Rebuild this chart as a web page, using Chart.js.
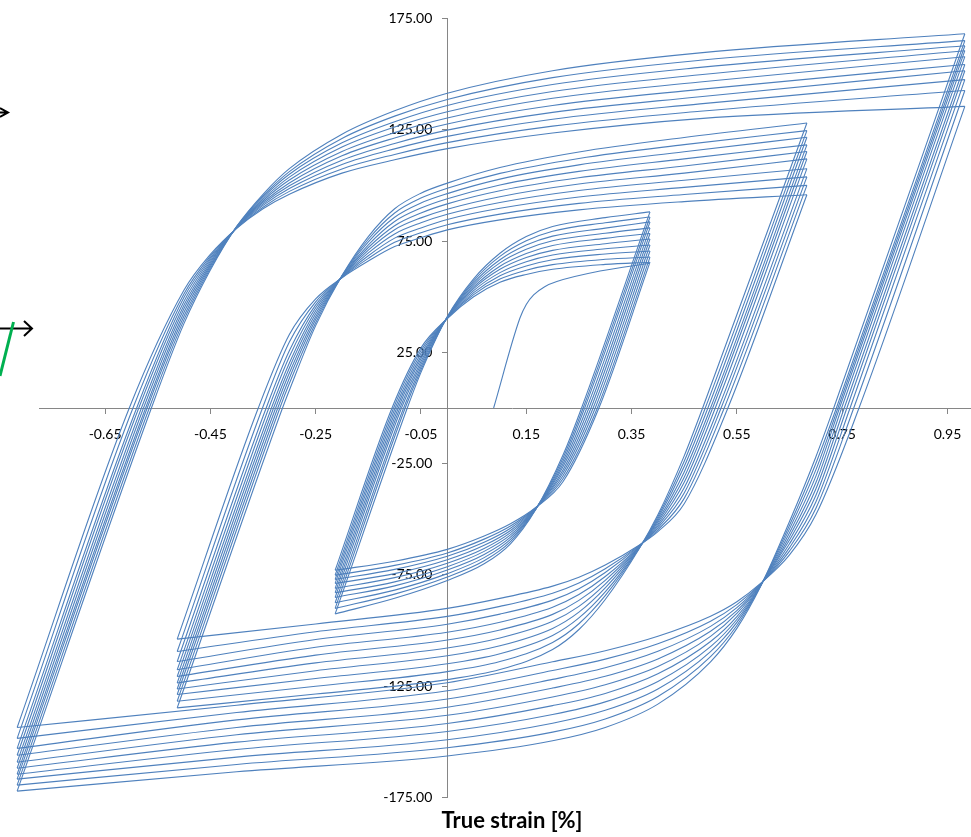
<!DOCTYPE html>
<html>
<head>
<meta charset="utf-8">
<script src="https://cdn.jsdelivr.net/npm/chart.js@4.4.1/dist/chart.umd.min.js"></script>
<style>
  html, body { margin: 0; padding: 0; background: #fff; overflow: hidden; }
  canvas { display: block; }
</style>
</head>
<body>
<canvas id="boucles" width="985" height="837"></canvas>
<script>
// cycles d'hystérésis : [déformation vraie %, contrainte], du plus grand cycle au plus petit
const grandeMontee = [
  [[-0.817,-172.1],[-0.562,0],[-0.50,38.0],[-0.45,62.0],[-0.40,81.6],[-0.35,96.0],[-0.30,107.5],[-0.20,123.0],[-0.10,133.5],[0,141.4],[0.20,151.5],[0.48,159.5],[0.983,168.1]],
  [[-0.817,-169.4],[-0.566,0],[-0.50,39.7],[-0.45,62.8],[-0.40,81.5],[-0.35,95.3],[-0.30,106.2],[-0.20,121.1],[-0.10,131.1],[0,138.6],[0.20,148.4],[0.48,156.2],[0.983,165.0]],
  [[-0.817,-166.7],[-0.570,0],[-0.50,41.3],[-0.45,63.6],[-0.40,81.4],[-0.35,94.6],[-0.30,105.0],[-0.20,119.1],[-0.10,128.6],[0,135.9],[0.20,145.3],[0.48,153.0],[0.983,162.7]],
  [[-0.817,-164.5],[-0.573,0],[-0.50,43.0],[-0.45,64.3],[-0.40,81.3],[-0.35,93.8],[-0.30,103.7],[-0.20,117.2],[-0.10,126.2],[0,133.1],[0.20,142.2],[0.48,149.7],[0.983,160.5]],
  [[-0.817,-161.8],[-0.577,0],[-0.50,44.7],[-0.45,65.1],[-0.40,81.2],[-0.35,93.1],[-0.30,102.4],[-0.20,115.2],[-0.10,123.7],[0,130.3],[0.20,139.1],[0.48,146.4],[0.983,157.8]],
  [[-0.817,-159.1],[-0.581,0],[-0.50,46.3],[-0.45,65.9],[-0.40,81.1],[-0.35,92.4],[-0.30,101.1],[-0.20,113.3],[-0.10,121.3],[0,127.6],[0.20,135.9],[0.48,143.1],[0.983,154.3]],
  [[-0.817,-156.0],[-0.586,0],[-0.50,48.0],[-0.45,66.7],[-0.40,81.0],[-0.35,91.7],[-0.30,99.8],[-0.20,111.3],[-0.10,118.8],[0,124.8],[0.20,132.8],[0.48,139.8],[0.983,151.5]],
  [[-0.817,-152.9],[-0.590,0],[-0.50,49.7],[-0.45,67.4],[-0.40,80.9],[-0.35,91.0],[-0.30,98.6],[-0.20,109.4],[-0.10,116.4],[0,122.0],[0.20,129.7],[0.48,136.6],[0.983,147.5]],
  [[-0.817,-148.4],[-0.597,0],[-0.50,51.3],[-0.45,68.2],[-0.40,80.8],[-0.35,90.2],[-0.30,97.3],[-0.20,107.4],[-0.10,113.9],[0,119.2],[0.20,126.6],[0.48,133.3],[0.983,142.6]],
  [[-0.817,-143.5],[-0.604,0],[-0.50,53.0],[-0.45,69.0],[-0.40,80.7],[-0.35,89.5],[-0.30,96.0],[-0.20,105.5],[-0.10,111.5],[0,116.5],[0.20,123.5],[0.48,130.0],[0.983,135.5]]
];
const grandeDescente = [
  [[0.983,168.1],[0.734,0],[0.70,-22.0],[0.65,-51.0],[0.595,-80.2],[0.55,-99.0],[0.50,-114.0],[0.40,-133.0],[0.30,-143.5],[0.20,-149.5],[0,-156.3],[-0.40,-163.4],[-0.817,-172.1]],
  [[0.983,165.0],[0.739,0],[0.70,-24.9],[0.65,-52.7],[0.595,-80.0],[0.55,-97.7],[0.50,-111.7],[0.40,-129.6],[0.30,-139.7],[0.20,-145.6],[0,-152.6],[-0.40,-160.1],[-0.817,-169.4]],
  [[0.983,162.7],[0.742,0],[0.70,-27.8],[0.65,-54.3],[0.595,-79.9],[0.55,-96.3],[0.50,-109.4],[0.40,-126.2],[0.30,-135.8],[0.20,-141.6],[0,-149.0],[-0.40,-156.8],[-0.817,-166.7]],
  [[0.983,160.5],[0.745,0],[0.70,-30.7],[0.65,-56.0],[0.595,-79.7],[0.55,-95.0],[0.50,-107.2],[0.40,-122.8],[0.30,-132.0],[0.20,-137.7],[0,-145.3],[-0.40,-153.4],[-0.817,-164.5]],
  [[0.983,157.8],[0.749,0],[0.70,-33.6],[0.65,-57.7],[0.595,-79.6],[0.55,-93.7],[0.50,-104.9],[0.40,-119.4],[0.30,-128.2],[0.20,-133.7],[0,-141.7],[-0.40,-150.1],[-0.817,-161.8]],
  [[0.983,154.3],[0.754,0],[0.70,-36.4],[0.65,-59.3],[0.595,-79.4],[0.55,-92.3],[0.50,-102.6],[0.40,-116.1],[0.30,-124.3],[0.20,-129.8],[0,-138.0],[-0.40,-146.8],[-0.817,-159.1]],
  [[0.983,151.5],[0.759,0],[0.70,-39.3],[0.65,-61.0],[0.595,-79.3],[0.55,-91.0],[0.50,-100.3],[0.40,-112.7],[0.30,-120.5],[0.20,-125.8],[0,-134.4],[-0.40,-143.5],[-0.817,-156.0]],
  [[0.983,147.5],[0.765,0],[0.70,-42.2],[0.65,-62.7],[0.595,-79.1],[0.55,-89.7],[0.50,-98.1],[0.40,-109.3],[0.30,-116.7],[0.20,-121.9],[0,-130.7],[-0.40,-140.1],[-0.817,-152.9]],
  [[0.983,142.6],[0.772,0],[0.70,-45.1],[0.65,-64.3],[0.595,-79.0],[0.55,-88.3],[0.50,-95.8],[0.40,-105.9],[0.30,-112.8],[0.20,-117.9],[0,-127.0],[-0.40,-136.8],[-0.817,-148.4]],
  [[0.983,135.5],[0.782,0],[0.70,-48.0],[0.65,-66.0],[0.595,-78.8],[0.55,-87.0],[0.50,-93.5],[0.40,-102.5],[0.30,-109.0],[0.20,-114.0],[0,-123.4],[-0.40,-133.5],[-0.817,-143.5]]
];
const moyenneMontee = [
  [[-0.513,-134.7],[-0.313,0],[-0.30,8.0],[-0.25,37.0],[-0.20,59.5],[-0.15,77.0],[-0.10,89.5],[-0.05,96.5],[0,101.0],[0.10,108.0],[0.25,115.0],[0.45,121.5],[0.683,128.0]],
  [[-0.513,-131.7],[-0.318,0],[-0.30,11.0],[-0.25,38.3],[-0.20,59.4],[-0.15,75.8],[-0.10,87.6],[-0.05,94.3],[0,98.7],[0.10,105.4],[0.25,112.1],[0.45,118.3],[0.683,124.6]],
  [[-0.513,-128.7],[-0.322,0],[-0.30,13.4],[-0.25,39.7],[-0.20,59.3],[-0.15,74.6],[-0.10,85.7],[-0.05,92.1],[0,96.3],[0.10,102.8],[0.25,109.2],[0.45,115.1],[0.683,121.6]],
  [[-0.513,-126.2],[-0.326,0],[-0.30,15.7],[-0.25,41.0],[-0.20,59.2],[-0.15,73.3],[-0.10,83.8],[-0.05,89.8],[0,94.0],[0.10,100.2],[0.25,106.3],[0.45,111.9],[0.683,118.2]],
  [[-0.513,-123.5],[-0.330,0],[-0.30,18.0],[-0.25,42.3],[-0.20,59.1],[-0.15,72.1],[-0.10,81.9],[-0.05,87.6],[0,91.7],[0.10,97.6],[0.25,103.4],[0.45,108.7],[0.683,115.2]],
  [[-0.513,-120.6],[-0.334,0],[-0.30,20.2],[-0.25,43.7],[-0.20,58.9],[-0.15,70.9],[-0.10,80.1],[-0.05,85.4],[0,89.3],[0.10,94.9],[0.25,100.6],[0.45,105.5],[0.683,111.9]],
  [[-0.513,-117.6],[-0.339,0],[-0.30,23.0],[-0.25,45.0],[-0.20,58.8],[-0.15,69.7],[-0.10,78.2],[-0.05,83.2],[0,87.0],[0.10,92.3],[0.25,97.7],[0.45,102.3],[0.683,107.5]],
  [[-0.513,-113.9],[-0.344,0],[-0.30,25.7],[-0.25,46.3],[-0.20,58.7],[-0.15,68.4],[-0.10,76.3],[-0.05,80.9],[0,84.7],[0.10,89.7],[0.25,94.8],[0.45,99.1],[0.683,103.8]],
  [[-0.513,-109.4],[-0.351,0],[-0.30,29.6],[-0.25,47.7],[-0.20,58.6],[-0.15,67.2],[-0.10,74.4],[-0.05,78.7],[0,82.3],[0.10,87.1],[0.25,91.9],[0.45,95.9],[0.683,100.0]],
  [[-0.513,-103.8],[-0.359,0],[-0.30,33.0],[-0.25,49.0],[-0.20,58.5],[-0.15,66.0],[-0.10,72.5],[-0.05,76.5],[0,80.0],[0.10,84.5],[0.25,89.0],[0.45,92.7],[0.683,95.8]]
];
const moyenneDescente = [
  [[0.683,128.0],[0.485,0],[0.45,-21.5],[0.40,-48.0],[0.365,-63.0],[0.30,-86.0],[0.25,-99.5],[0.20,-108.5],[0.10,-117.5],[0,-122.0],[-0.25,-128.5],[-0.513,-134.7]],
  [[0.683,124.6],[0.490,0],[0.45,-23.9],[0.40,-48.8],[0.365,-62.8],[0.30,-84.3],[0.25,-96.9],[0.20,-105.3],[0.10,-113.9],[0,-118.4],[-0.25,-125.0],[-0.513,-131.7]],
  [[0.683,121.6],[0.495,0],[0.45,-26.3],[0.40,-49.7],[0.365,-62.7],[0.30,-82.6],[0.25,-94.3],[0.20,-102.2],[0.10,-110.4],[0,-114.9],[-0.25,-121.5],[-0.513,-128.7]],
  [[0.683,118.2],[0.500,0],[0.45,-28.7],[0.40,-50.5],[0.365,-62.5],[0.30,-80.8],[0.25,-91.7],[0.20,-99.0],[0.10,-106.8],[0,-111.3],[-0.25,-118.0],[-0.513,-126.2]],
  [[0.683,115.2],[0.504,0],[0.45,-31.1],[0.40,-51.3],[0.365,-62.3],[0.30,-79.1],[0.25,-89.1],[0.20,-95.8],[0.10,-103.3],[0,-107.8],[-0.25,-114.5],[-0.513,-123.5]],
  [[0.683,111.9],[0.509,0],[0.45,-33.4],[0.40,-52.2],[0.365,-62.2],[0.30,-77.4],[0.25,-86.4],[0.20,-92.7],[0.10,-99.7],[0,-104.2],[-0.25,-111.0],[-0.513,-120.6]],
  [[0.683,107.5],[0.515,0],[0.45,-35.8],[0.40,-53.0],[0.365,-62.0],[0.30,-75.7],[0.25,-83.8],[0.20,-89.5],[0.10,-96.2],[0,-100.7],[-0.25,-107.5],[-0.513,-117.6]],
  [[0.683,103.8],[0.520,0],[0.45,-38.2],[0.40,-53.8],[0.365,-61.8],[0.30,-73.9],[0.25,-81.2],[0.20,-86.3],[0.10,-92.6],[0,-97.1],[-0.25,-104.0],[-0.513,-113.9]],
  [[0.683,100.0],[0.526,0],[0.45,-40.6],[0.40,-54.7],[0.365,-61.7],[0.30,-72.2],[0.25,-78.6],[0.20,-83.2],[0.10,-89.1],[0,-93.6],[-0.25,-100.5],[-0.513,-109.4]],
  [[0.683,95.8],[0.533,0],[0.45,-43.0],[0.40,-55.5],[0.365,-61.5],[0.30,-70.5],[0.25,-76.0],[0.20,-80.0],[0.10,-85.5],[0,-90.0],[-0.25,-97.0],[-0.513,-103.8]]
];
const petiteMontee = [
  [[-0.213,-92.5],[-0.076,0],[-0.05,16.0],[0,41.0],[0.05,58.0],[0.10,69.5],[0.15,77.0],[0.20,81.5],[0.30,85.5],[0.385,88.1]],
  [[-0.213,-90.0],[-0.080,0],[-0.05,17.2],[0,40.9],[0.05,57.1],[0.10,68.1],[0.15,75.1],[0.20,79.4],[0.30,83.2],[0.385,85.8]],
  [[-0.213,-87.5],[-0.083,0],[-0.05,18.4],[0,40.8],[0.05,56.2],[0.10,66.6],[0.15,73.2],[0.20,77.2],[0.30,80.8],[0.385,83.6]],
  [[-0.213,-85.1],[-0.087,0],[-0.05,19.7],[0,40.8],[0.05,55.3],[0.10,65.2],[0.15,71.3],[0.20,75.1],[0.30,78.5],[0.385,80.9]],
  [[-0.213,-83.0],[-0.090,0],[-0.05,20.9],[0,40.7],[0.05,54.4],[0.10,63.7],[0.15,69.4],[0.20,73.0],[0.30,76.2],[0.385,78.4]],
  [[-0.213,-81.0],[-0.093,0],[-0.05,22.1],[0,40.6],[0.05,53.6],[0.10,62.3],[0.15,67.6],[0.20,70.8],[0.30,73.8],[0.385,75.9]],
  [[-0.213,-78.8],[-0.096,0],[-0.05,23.3],[0,40.5],[0.05,52.7],[0.10,60.8],[0.15,65.7],[0.20,68.7],[0.30,71.5],[0.385,73.2]],
  [[-0.213,-77.0],[-0.099,0],[-0.05,24.6],[0,40.4],[0.05,51.8],[0.10,59.4],[0.15,63.8],[0.20,66.6],[0.30,69.2],[0.385,70.5]],
  [[-0.213,-75.1],[-0.102,0],[-0.05,25.8],[0,40.3],[0.05,50.9],[0.10,57.9],[0.15,61.9],[0.20,64.4],[0.30,66.8],[0.385,67.8]],
  [[-0.213,-72.9],[-0.105,0],[-0.05,27.0],[0,40.2],[0.05,50.0],[0.10,56.5],[0.15,60.0],[0.20,62.3],[0.30,64.5],[0.385,65.5]]
];
const petiteDescente = [
  [[0.385,88.1],[0.255,0],[0.22,-21.0],[0.168,-45.6],[0.12,-61.0],[0.07,-70.0],[0,-77.5],[-0.10,-85.5],[-0.213,-92.5]],
  [[0.385,85.8],[0.258,0],[0.22,-22.3],[0.168,-45.5],[0.12,-60.0],[0.07,-68.6],[0,-75.9],[-0.10,-83.6],[-0.213,-90.0]],
  [[0.385,83.6],[0.261,0],[0.22,-23.7],[0.168,-45.4],[0.12,-59.0],[0.07,-67.2],[0,-74.4],[-0.10,-81.8],[-0.213,-87.5]],
  [[0.385,80.9],[0.265,0],[0.22,-25.0],[0.168,-45.3],[0.12,-58.0],[0.07,-65.8],[0,-72.8],[-0.10,-79.9],[-0.213,-85.1]],
  [[0.385,78.4],[0.269,0],[0.22,-26.3],[0.168,-45.2],[0.12,-57.0],[0.07,-64.4],[0,-71.3],[-0.10,-78.1],[-0.213,-83.0]],
  [[0.385,75.9],[0.273,0],[0.22,-27.7],[0.168,-45.1],[0.12,-56.0],[0.07,-63.1],[0,-69.7],[-0.10,-76.2],[-0.213,-81.0]],
  [[0.385,73.2],[0.277,0],[0.22,-29.0],[0.168,-45.0],[0.12,-55.0],[0.07,-61.7],[0,-68.2],[-0.10,-74.4],[-0.213,-78.8]],
  [[0.385,70.5],[0.281,0],[0.22,-30.3],[0.168,-44.9],[0.12,-54.0],[0.07,-60.3],[0,-66.6],[-0.10,-72.5],[-0.213,-77.0]],
  [[0.385,67.8],[0.285,0],[0.22,-31.7],[0.168,-44.8],[0.12,-53.0],[0.07,-58.9],[0,-65.1],[-0.10,-70.7],[-0.213,-75.1]],
  [[0.385,65.5],[0.288,0],[0.22,-33.0],[0.168,-44.7],[0.12,-52.0],[0.07,-57.5],[0,-63.5],[-0.10,-68.8],[-0.213,-72.9]]
];
// première mise en charge
const chargeInitiale = [[0.088,0],[0.138,40.4],[0.150,46.5],[0.164,50.8],[0.185,54.5],[0.208,56.8],[0.290,61.5],[0.385,65.0]];

// graduations des axes
const ticksDeformation = [-0.65, -0.45, -0.25, -0.05, 0.15, 0.35, 0.55, 0.75, 0.95];
const ticksContrainte = [-175, -125, -75, -25, 25, 75, 125, 175];

const bleu = "#4f81bd";
const branches = [].concat(
  [chargeInitiale],
  grandeMontee, grandeDescente,
  moyenneMontee, moyenneDescente,
  petiteMontee, petiteDescente
);
const datasets = branches.map(b => ({
  data: b.map(p => ({ x: p[0], y: p[1] })),
  showLine: true,
  borderColor: bleu,
  borderWidth: 1.1,
  pointRadius: 0,
  cubicInterpolationMode: "monotone",
  clip: false,
}));

// étiquettes de l'axe vertical décalées à gauche des graduations
const etiquettesY = {
  id: "etiquettesY",
  beforeDraw(chart) {
    const xAxe = chart.scales.x.getPixelForValue(0);
    for (const item of chart.scales.y.getLabelItems()) {
      item.options.translation[0] = xAxe - 15;
    }
  }
};

// les flèches coupées au bord gauche
const flechesBord = {
  id: "flechesBord",
  afterDraw(chart) {
    const c = chart.ctx;
    c.save();
    c.strokeStyle = "#000";
    c.lineWidth = 2;
    c.beginPath();
    c.moveTo(0, 112.5); c.lineTo(8, 112.5);
    c.moveTo(0, 108); c.lineTo(8, 112.5); c.lineTo(0, 117);
    c.moveTo(0, 328.5); c.lineTo(32, 328.5);
    c.moveTo(24, 321); c.lineTo(32, 328.5); c.lineTo(24, 336);
    c.stroke();
    c.strokeStyle = "#00b050";
    c.lineWidth = 3;
    c.beginPath();
    c.moveTo(0, 376); c.lineTo(13.5, 322);
    c.stroke();
    c.restore();
  }
};

const police = { family: "Lato", size: 14 };

new Chart(document.querySelector("#boucles"), {
  type: "scatter",
  data: { datasets },
  options: {
    responsive: false,
    animation: false,
    events: [],
    layout: { padding: { left: 39, top: 15, right: 0, bottom: 0 } },
    plugins: {
      legend: { display: false },
      tooltip: { enabled: false },
      title: {
        display: true,
        position: "bottom",
        text: "True strain [%]",
        color: "#000",
        font: { family: "Lato", size: 22, weight: "bold" },
        padding: { top: 10, bottom: 3 },
      },
    },
    scales: {
      x: {
        type: "linear",
        position: { y: 0 },
        min: -0.7755,
        max: 1.0213,
        afterBuildTicks: s => { s.ticks = ticksDeformation.map(v => ({ value: v })); },
        afterFit: s => { s.height = 0; },
        grid: { drawOnChartArea: false, drawTicks: true, tickLength: 5, color: "#868686" },
        border: { color: "#868686", width: 1 },
        ticks: {
          autoSkip: false, maxRotation: 0, padding: 13, color: "#000", font: police,
          callback: v => v.toFixed(2),
        },
      },
      y: {
        type: "linear",
        position: { x: 0 },
        min: -175,
        max: 175,
        afterBuildTicks: s => { s.ticks = ticksContrainte.map(v => ({ value: v })); },
        afterFit: s => { s.width = 0; },
        grid: { drawOnChartArea: false, drawTicks: true, tickLength: 5, color: "#868686" },
        border: { color: "#868686", width: 1 },
        ticks: {
          autoSkip: false, padding: 10, color: "#000", font: police,
          callback: v => v.toFixed(2),
        },
      },
    },
  },
  plugins: [etiquettesY, flechesBord],
});
</script>
</body>
</html>
